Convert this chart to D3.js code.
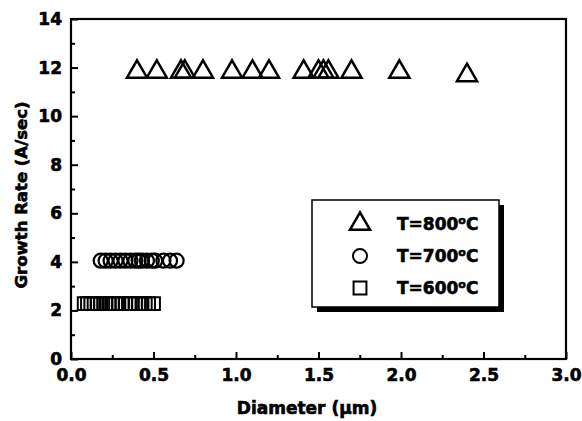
<!DOCTYPE html>
<html>
<head>
<meta charset="utf-8">
<script src="https://cdn.jsdelivr.net/npm/d3@7"></script>
<style>
  body { margin: 0; background: #fff; }
  text { font-family: "DejaVu Sans", "Liberation Sans", Arial, sans-serif; font-weight: bold; stroke: #000; stroke-width: 0.6px; }
</style>
</head>
<body>
<div id="chart"></div>
<script>
// values
const d800 = [0.40, 0.52, 0.667, 0.69, 0.80, 0.976, 1.10, 1.20, 1.41, 1.50, 1.53, 1.56, 1.70, 1.99, 2.40];
const r800 = [11.82, 11.82, 11.82, 11.82, 11.82, 11.82, 11.82, 11.82, 11.82, 11.82, 11.82, 11.82, 11.82, 11.82, 11.68];
const d700 = [0.18, 0.21, 0.24, 0.27, 0.30, 0.33, 0.36, 0.39, 0.41, 0.43, 0.46, 0.49, 0.51, 0.56, 0.60, 0.64];
const r700 = 4.05;
const d600 = [0.08, 0.10, 0.12, 0.14, 0.16, 0.18, 0.21, 0.23, 0.25, 0.27, 0.29, 0.31, 0.33, 0.36, 0.39, 0.41, 0.43, 0.45, 0.47, 0.50];
const r600 = 2.28;
const xTicks = [0, 0.5, 1.0, 1.5, 2.0, 2.5, 3.0];
const yTicks = [0, 2, 4, 6, 8, 10, 12, 14];
const legendLabels = ["T=800", "T=700", "T=600"];

const width = 582, height = 421;
const margin = {top: 19, right: 16, bottom: 62, left: 71};
const w = width - margin.left - margin.right;
const h = height - margin.top - margin.bottom;

const svg = d3.select("#chart").append("svg")
    .attr("width", width)
    .attr("height", height);

const g = svg.append("g")
    .attr("transform", `translate(${margin.left},${margin.top})`);

let x = d3.scaleLinear().domain([0, 3]).range([0, w]);
let y = d3.scaleLinear().domain([0, 14]).range([h, 0]);

// minor ticks
g.append("g")
    .attr("transform", `translate(0,${h})`)
    .call(d3.axisBottom(x).tickValues(d3.range(0.25, 3, 0.5)).tickSize(-4).tickFormat(""))
    .call(a => a.select(".domain").remove())
    .selectAll("line").attr("stroke-width", 2);
g.append("g")
    .call(d3.axisLeft(y).tickValues(d3.range(1, 14, 2)).tickSize(-4).tickFormat(""))
    .call(a => a.select(".domain").remove())
    .selectAll("line").attr("stroke-width", 2);

// major ticks
let xAxis = g.append("g")
    .attr("transform", `translate(0,${h})`)
    .call(d3.axisBottom(x).tickValues(xTicks).tickSize(-7).tickPadding(10).tickFormat(d3.format(".1f")));
xAxis.select(".domain").remove();
xAxis.selectAll("line").attr("stroke-width", 2);
xAxis.selectAll("text").style("font-size", "17px").attr("fill", "#000");

let yAxis = g.append("g")
    .call(d3.axisLeft(y).tickValues(yTicks).tickSize(-7).tickPadding(9));
yAxis.select(".domain").remove();
yAxis.selectAll("line").attr("stroke-width", 2);
yAxis.selectAll("text").style("font-size", "17px").attr("fill", "#000");

// frame
g.append("rect")
    .attr("width", w).attr("height", h)
    .attr("fill", "none").attr("stroke", "#000").attr("stroke-width", 2.2);

// data
const tri = d3.symbol().type(d3.symbolTriangle).size(175);
const circ = d3.symbol().type(d3.symbolCircle).size(155);
const sq = d3.symbol().type(d3.symbolSquare).size(165);

g.selectAll(".s600").data(d600).enter().append("path")
    .attr("d", sq)
    .attr("transform", d => `translate(${x(d)},${y(r600)})`)
    .attr("fill", "none").attr("stroke", "#000").attr("stroke-width", 2);

g.selectAll(".s700").data(d700).enter().append("path")
    .attr("d", circ)
    .attr("transform", d => `translate(${x(d)},${y(r700)})`)
    .attr("fill", "none").attr("stroke", "#000").attr("stroke-width", 2.2);

g.selectAll(".s800").data(d800).enter().append("path")
    .attr("d", tri)
    .attr("transform", (d, i) => `translate(${x(d)},${y(r800[i])})`)
    .attr("fill", "none").attr("stroke", "#000").attr("stroke-width", 2.5)
    .attr("stroke-linejoin", "miter");

// legend
let lg = svg.append("g").attr("transform", "translate(312,200)");
lg.append("rect").attr("x", 5).attr("y", 5).attr("width", 187).attr("height", 107).attr("fill", "#000");
lg.append("rect").attr("width", 187).attr("height", 107)
    .attr("fill", "#fff").attr("stroke", "#000").attr("stroke-width", 1.5);

const legendSyms = [tri, circ, sq];
legendLabels.forEach(function(lbl, i) {
    let yy = 24 + i * 32;
    lg.append("path")
        .attr("d", legendSyms[i])
        .attr("transform", `translate(48,${yy})`)
        .attr("fill", "none").attr("stroke", "#000").attr("stroke-width", i == 0 ? 2.5 : 2);
    let t = lg.append("text")
        .attr("x", 85).attr("y", yy + 6)
        .style("font-size", "17px");
    t.append("tspan").text(lbl);
    t.append("tspan").attr("dy", -6).style("font-size", "11px").text("o");
    t.append("tspan").attr("dy", 6).text("C");
});

// axis titles
svg.append("text")
    .attr("transform", `translate(307, 414)`)
    .style("text-anchor", "middle")
    .style("font-size", "17px")
    .text("Diameter (\u03bcm)");

svg.append("text")
    .attr("transform", `translate(27, 195) rotate(-90)`)
    .style("text-anchor", "middle")
    .style("font-size", "16.5px")
    .text("Growth Rate (A/sec)");
</script>
</body>
</html>
